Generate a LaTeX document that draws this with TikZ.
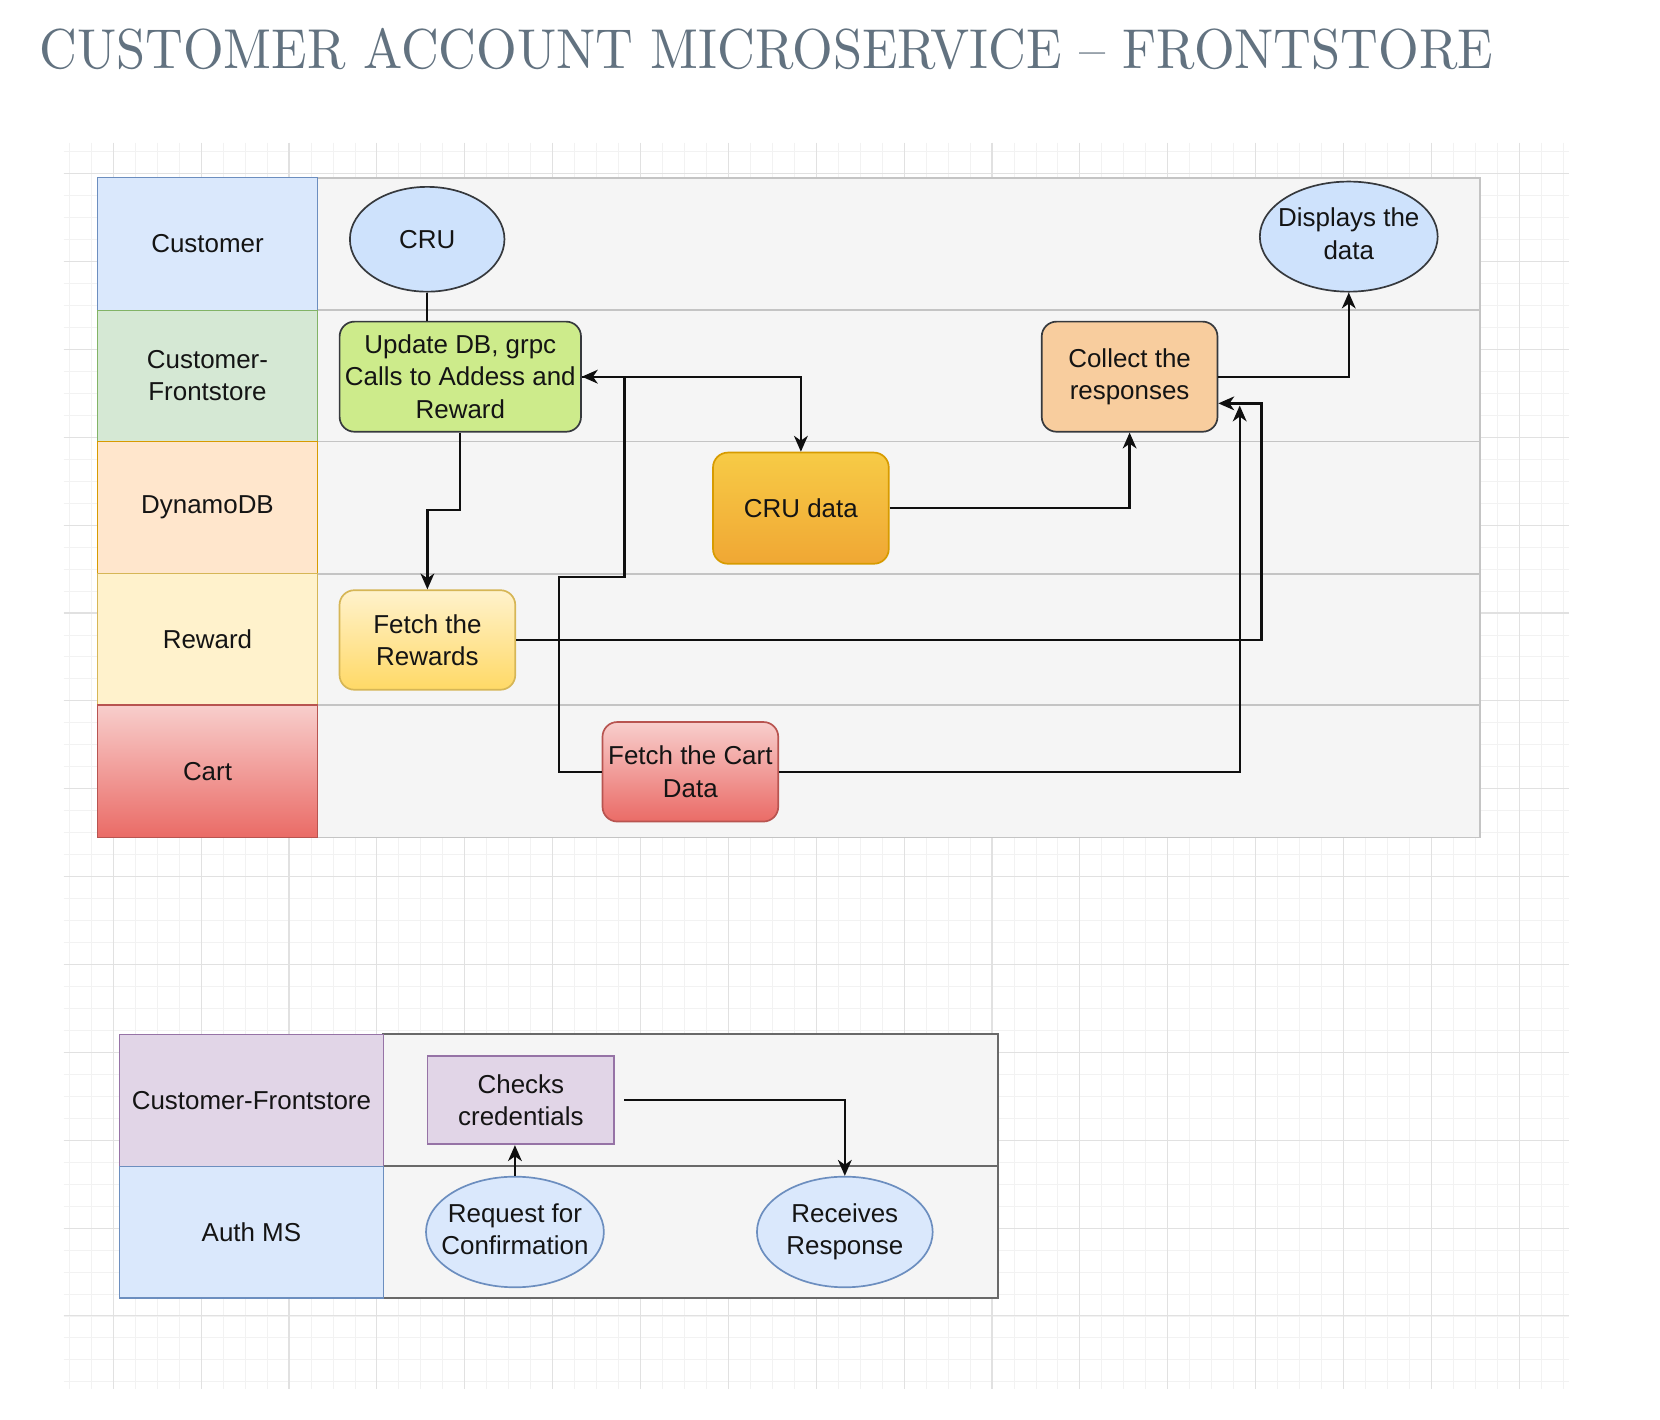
\documentclass[tikz,border=0pt]{standalone}
\usepackage{fontspec}
\usepackage{graphicx}
\newfontfamily\diagfont{Liberation Sans}
\usetikzlibrary{shapes.geometric,arrows.meta}
\newcommand\ctext[1]{\makebox[0pt]{\begin{tabular}{@{}c@{}}#1\end{tabular}}}
\definecolor{titlegray}{RGB}{98,114,128}
\definecolor{gridminor}{RGB}{242,242,242}
\definecolor{gridmajor}{RGB}{225,225,225}
\definecolor{lanefill}{RGB}{245,245,245}
\definecolor{lanestroke}{RGB}{196,196,196}
\definecolor{lanestrokedk}{RGB}{105,105,105}
\definecolor{custblue}{HTML}{DAE8FC}
\definecolor{custblueS}{HTML}{6C8EBF}
\definecolor{cfgreen}{HTML}{D5E8D4}
\definecolor{cfgreenS}{HTML}{82B366}
\definecolor{dynor}{HTML}{FFE6CC}
\definecolor{dynorS}{HTML}{D79B00}
\definecolor{rewy}{HTML}{FFF2CC}
\definecolor{rewyS}{HTML}{D6B656}
\definecolor{rewbot}{HTML}{FFD966}
\definecolor{carttop}{HTML}{F8CECC}
\definecolor{cartbot}{HTML}{EA6B66}
\definecolor{cartS}{HTML}{B85450}
\definecolor{ellblue}{RGB}{206,226,252}
\definecolor{dkstroke}{HTML}{36393D}
\definecolor{updgreen}{HTML}{CDEB8B}
\definecolor{crutop}{RGB}{247,203,70}
\definecolor{crubot}{RGB}{240,167,52}
\definecolor{collor}{RGB}{248,205,158}
\definecolor{purp}{HTML}{E1D5E7}
\definecolor{purpS}{HTML}{9673A6}
\definecolor{conn}{RGB}{15,15,15}
\begin{document}
\begin{tikzpicture}[x=1pt,y=-1pt,
  txt/.style={font=\diagfont\fontsize{24.5}{30.5}\selectfont, text=black!92, align=center},
  lanelab/.style={txt, rectangle, inner sep=0pt, outer sep=0pt, line width=1.2pt},
  rbox/.style={txt, rectangle, rounded corners=14pt, inner sep=0pt, line width=1.6pt},
  sbox/.style={txt, rectangle, inner sep=0pt, line width=1.6pt},
  ell/.style={txt, ellipse, inner sep=0pt, line width=1.6pt},
  minorgrid/.style={draw=gridminor, line width=0.8pt},
  majorgrid/.style={draw=gridmajor, line width=1pt},
  lanebox/.style={fill=lanefill, draw=lanestroke, line width=1.6pt},
  lanebox2/.style={fill=lanefill, draw=lanestrokedk, line width=1.8pt},
  arr/.style={draw=conn, line width=2.2pt, -{Stealth[length=15pt,width=13pt,inset=4.5pt]}},
  plainline/.style={draw=conn, line width=2.2pt}
]
\useasboundingbox (0,0) rectangle (1568,1341);
\fill[white] (0,0) rectangle (1568,1341);
% grid
\begin{scope}
\clip (60,135) rectangle (1482,1312);
\foreach \i in {-3,...,66} \draw[minorgrid] ({107+20.75*\i},135) -- ({107+20.75*\i},1312);
\foreach \j in {-2,...,57} \draw[minorgrid] (60,{164+20.75*\j}) -- (1482,{164+20.75*\j});
\foreach \i in {0,...,16} \draw[majorgrid] ({107+83*\i},135) -- ({107+83*\i},1312);
\foreach \j in {0,...,13} \draw[majorgrid] (60,{164+83*\j}) -- (1482,{164+83*\j});
\end{scope}
% title
\node[anchor=south west, inner sep=0pt, text=titlegray] (title) at (37,66)
  {\resizebox{1373pt}{38pt}{CUSTOMER ACCOUNT MICROSERVICE – FRONTSTORE}};
% top pool lanes
\foreach \a/\b in {168/293, 293/417, 417/542, 542/666, 666/791}
  \draw[lanebox] (300,\a) rectangle (1398,\b);
\node[lanelab, fill=custblue, draw=custblueS, minimum width=208pt, minimum height=125pt] (lcust) at (196,230.5) {Customer};
\node[lanelab, fill=cfgreen, draw=cfgreenS, minimum width=208pt, minimum height=124pt] (lcf) at (196,355) {Customer-\\Frontstore};
\node[lanelab, fill=dynor, draw=dynorS, minimum width=208pt, minimum height=125pt] (ldyn) at (196,479.5) {DynamoDB};
\node[lanelab, fill=rewy, draw=rewyS, minimum width=208pt, minimum height=124pt] (lrew) at (196,604) {Reward};
\node[lanelab, top color=carttop, bottom color=cartbot, draw=cartS, minimum width=208pt, minimum height=125pt] (lcart) at (196,728.5) {Cart};
% top pool nodes
\node[ell, fill=ellblue, draw=dkstroke, minimum width=146pt, minimum height=99pt] (cru) at (403.5,226) {CRU};
\node[rbox, fill=updgreen, draw=dkstroke, minimum width=228pt, minimum height=104pt] (upd) at (434.8,355.8) {Update DB, grpc\\Calls to Addess and\\Reward};
\node[rbox, top color=crutop, bottom color=crubot, draw=dynorS, minimum width=166pt, minimum height=105pt] (crud) at (756.5,480) {CRU data};
\node[rbox, fill=collor, draw=dkstroke, minimum width=166pt, minimum height=104pt] (coll) at (1067,355.8) {Collect the\\responses};
\node[ell, fill=ellblue, draw=dkstroke, minimum width=168pt, minimum height=104pt] (disp) at (1274,223.5) {\ctext{Displays the\\data}};
\node[rbox, top color=rewy, bottom color=rewbot, draw=rewyS, minimum width=166pt, minimum height=94pt] (rew) at (403.7,604.5) {Fetch the\\Rewards};
\node[rbox, top color=carttop, bottom color=cartbot, draw=cartS, minimum width=166pt, minimum height=94pt] (cart) at (652.1,729) {Fetch the Cart\\Data};
\coordinate (cartend) at (1171,383);
% top pool connectors
\draw[plainline] (cru.south) -- (cru.south |- upd.north);
\draw[arr] (upd.south) |- (403.7,482) -- (rew.north);
\draw[arr] (upd.east) -| (crud.north);
\draw[arr] (cart.west) -| (528,545) -| (590,355.8) -- (upd.east);
\draw[arr] (crud.east) -| (coll.south);
\draw[arr] (coll.east) -| (disp.south);
\draw[arr] (rew.east) -| (1191.5,381) -- (coll.east |- 0,381);
\draw[arr] (cart.east) -| (cartend);
% bottom pool
\draw[lanebox2] (362,977) rectangle (943,1101.5);
\draw[lanebox2] (362,1101.5) rectangle (943,1226);
\node[lanelab, fill=purp, draw=purpS, minimum width=249pt, minimum height=124.5pt] (lcf2) at (237.5,1039.25) {Customer-Frontstore};
\node[lanelab, fill=custblue, draw=custblueS, minimum width=249pt, minimum height=124.5pt] (lauth) at (237.5,1163.75) {Auth MS};
\node[sbox, fill=purp, draw=purpS, minimum width=176.5pt, minimum height=83.4pt] (chk) at (492,1039.2) {Checks\\credentials};
\node[ell, fill=custblue, draw=custblueS, minimum width=168pt, minimum height=104.5pt] (req) at (486.4,1163.7) {\ctext{Request for\\Confirmation}};
\node[ell, fill=custblue, draw=custblueS, minimum width=166pt, minimum height=104.5pt] (rec) at (798,1163.7) {\ctext{Receives\\Response}};
\draw[arr] (req.north) -- (req.north |- chk.south);
\draw[arr] ([xshift=8.6pt]chk.east) -| (rec.north);
\end{tikzpicture}
\end{document}
